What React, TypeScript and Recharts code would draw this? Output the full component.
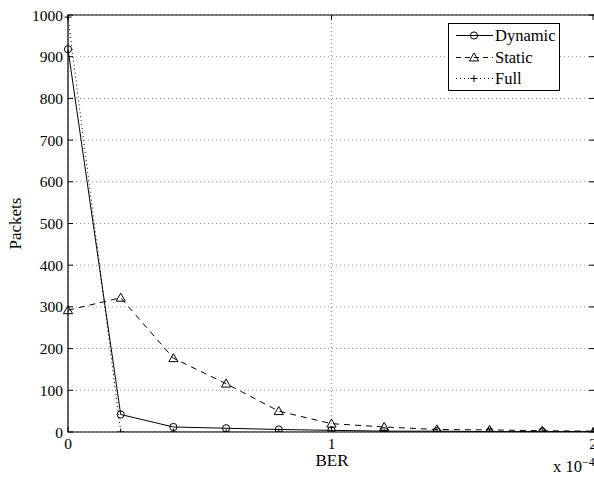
import { CartesianGrid, Line, LineChart, ReferenceArea, XAxis, YAxis } from "recharts";

const ber = [0, 0.2, 0.4, 0.6, 0.8, 1.0, 1.2, 1.4, 1.6, 1.8, 2.0];
const dynamicPackets = [918, 42, 12, 9, 6, 4, 2, 2, 1, 1, 1];
const staticPackets = [292, 322, 177, 116, 50, 20, 12, 6, 5, 3, 2];
const fullPackets = [995, 0, 0, 0, 0, 0, 0, 0, 0, 0, 0];
const xTicks = [0, 1, 2];
const yTicks = [0, 100, 200, 300, 400, 500, 600, 700, 800, 900, 1000];

const data = ber.map((b, i) => ({
  ber: b,
  dynamic: dynamicPackets[i],
  static: staticPackets[i],
  full: fullPackets[i]
}));

const W = 594;
const H = 477;
const LEFT = 68;
const TOP = 15;
const RIGHT = 595;
const BOTTOM = 432;
const font = "Liberation Serif";

function CircleDot(props: any) {
  const { cx, cy } = props;
  if (cx == null || cy == null) return null;
  return <circle cx={cx} cy={cy} r={3.6} fill="none" stroke="#000" strokeWidth={1} />;
}

function TriangleDot(props: any) {
  const { cx, cy } = props;
  if (cx == null || cy == null) return null;
  const s = 4.6;
  return (
    <polygon
      points={`${cx},${cy - s} ${cx - s},${cy + s * 0.75} ${cx + s},${cy + s * 0.75}`}
      fill="none"
      stroke="#000"
      strokeWidth={1}
    />
  );
}

function PlusDot(props: any) {
  const { cx, cy } = props;
  if (cx == null || cy == null) return null;
  return (
    <g stroke="#000" strokeWidth={1}>
      <line x1={cx - 3.5} x2={cx + 3.5} y1={cy} y2={cy} />
      <line x1={cx} x2={cx} y1={cy - 3.5} y2={cy + 3.5} />
    </g>
  );
}

function YTick(props: any) {
  const { y, payload } = props;
  return (
    <g>
      <text x={LEFT - 5} y={y} textAnchor="end" dominantBaseline="central" fontSize={15.5} fontFamily={font} fill="#000">
        {payload.value}
      </text>
      <line x1={LEFT} x2={LEFT + 5} y1={y} y2={y} stroke="#000" />
      <line x1={RIGHT - 6} x2={RIGHT - 1} y1={y} y2={y} stroke="#000" />
    </g>
  );
}

function XTick(props: any) {
  const { x, payload } = props;
  return (
    <g>
      <text x={x} y={BOTTOM + 11} textAnchor="middle" dominantBaseline="central" fontSize={15.5} fontFamily={font} fill="#000">
        {payload.value}
      </text>
      <line x1={x} x2={x} y1={BOTTOM - 5} y2={BOTTOM} stroke="#000" />
      <line x1={x} x2={x} y1={TOP} y2={TOP + 5} stroke="#000" />
    </g>
  );
}

const legendRows = [
  { name: "Dynamic", dash: undefined, marker: "circle" },
  { name: "Static", dash: "5 4", marker: "triangle" },
  { name: "Full", dash: "1 3", marker: "plus" }
];

function LegendBox() {
  return (
    <div
      style={{
        position: "absolute",
        left: 448,
        top: 23,
        boxSizing: "border-box",
        width: 112,
        height: 68,
        border: "1.5px solid #000",
        background: "#fff",
        padding: "1px 0",
        fontFamily: font,
        fontSize: 16.5
      }}
    >
      {legendRows.map((r) => (
        <div key={r.name} style={{ display: "flex", alignItems: "center", height: 21.5 }}>
          <svg width={45} height={21} style={{ display: "block" }}>
            <line x1={7} x2={44} y1={10.5} y2={10.5} stroke="#000" strokeDasharray={r.dash} />
            {r.marker === "circle" && <CircleDot cx={25} cy={10.5} />}
            {r.marker === "triangle" && <TriangleDot cx={25} cy={10.5} />}
            {r.marker === "plus" && <PlusDot cx={25} cy={10.5} />}
          </svg>
          <span style={{ lineHeight: "21px", marginLeft: 1 }}>{r.name}</span>
        </div>
      ))}
    </div>
  );
}

export default function App() {
  return (
    <div style={{ position: "absolute", left: 0, top: 0, width: W, height: H, background: "#fff", overflow: "hidden" }}>
      <LineChart width={W + 3} height={H} data={data} margin={{ top: TOP, right: W + 3 - RIGHT, bottom: 0, left: 0 }}>
        <CartesianGrid stroke="#999" strokeDasharray="1 3" />
        <XAxis
          dataKey="ber"
          type="number"
          domain={[0, 2]}
          ticks={xTicks}
          height={H - BOTTOM}
          tick={<XTick />}
          tickLine={false}
          axisLine={false}
          label={{
            content: () => (
              <text x={332} y={BOTTOM + 28} textAnchor="middle" dominantBaseline="central" fontSize={17} fontFamily={font} fill="#000">
                BER
              </text>
            )
          }}
        />
        <YAxis
          type="number"
          domain={[0, 1000]}
          ticks={yTicks}
          width={LEFT}
          tick={<YTick />}
          tickLine={false}
          axisLine={false}
          allowDataOverflow
          label={{
            content: () => (
              <text
                x={15}
                y={(TOP + BOTTOM) / 2}
                transform={`rotate(-90 15 ${(TOP + BOTTOM) / 2})`}
                textAnchor="middle"
                dominantBaseline="central"
                fontSize={17}
                fontFamily={font}
                fill="#000"
              >
                Packets
              </text>
            )
          }}
        />
        <ReferenceArea x1={0} x2={2} y1={0} y2={1000} fill="none" stroke="#000" strokeWidth={1.2} />
        <Line dataKey="full" stroke="#000" strokeWidth={1} strokeDasharray="1 3" dot={<PlusDot />} isAnimationActive={false} />
        <Line dataKey="static" stroke="#000" strokeWidth={1} strokeDasharray="6 5" dot={<TriangleDot />} isAnimationActive={false} />
        <Line dataKey="dynamic" stroke="#000" strokeWidth={1} dot={<CircleDot />} isAnimationActive={false} />
      </LineChart>
      <LegendBox />
      <div style={{ position: "absolute", left: 553, top: 455, fontFamily: font, fontSize: 16.5, whiteSpace: "nowrap" }}>
        x 10<sup style={{ fontSize: 12, verticalAlign: "6px" }}>−4</sup>
      </div>
    </div>
  );
}
